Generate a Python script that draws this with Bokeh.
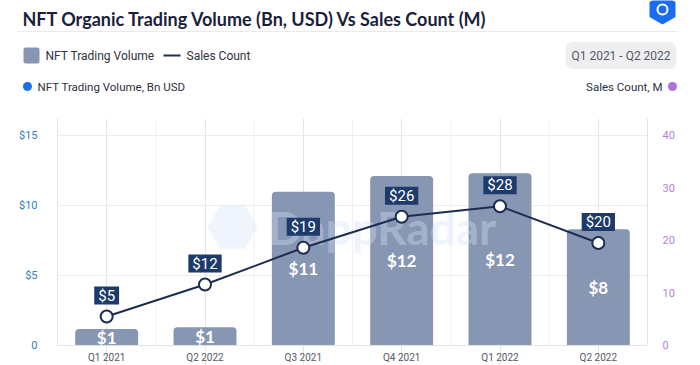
from bokeh.plotting import figure
from bokeh.models import Range1d, LinearAxis, FixedTicker, ColumnDataSource, Span
from bokeh.core.properties import value
from bokeh.embed import file_html
from bokeh.resources import INLINE

# ---- data ----
quarters = ["Q1 2021", "Q2 2022", "Q3 2021", "Q4 2021", "Q1 2022", "Q2 2022"]
volume_bn = [1.17, 1.3, 10.97, 12.1, 12.3, 8.3]
volume_labels = ["$1", "$1", "$11", "$12", "$12", "$8"]
sales_m = [5.5, 11.6, 18.6, 24.5, 26.5, 19.5]
sales_labels = ["$5", "$12", "$19", "$26", "$28", "$20"]
left_ticks = [0, 5, 10, 15]
left_tick_labels = ["0", "$5", "$10", "$15"]
right_ticks = [0, 10, 20, 30, 40]
vol_max = 16.2
sales_max = 43.2

BAR = "#8796b3"
NAVY = "#1c2d4f"
LABEL_BG = "#1d3a6b"
BLUE_AX = "#2f7dc0"
PURPLE_AX = "#b27fdc"
FONT = "Roboto"

W = 700
HH = 103
MH = 262

# ---- header ----
h = figure(width=W, height=HH, x_range=Range1d(0, W), y_range=Range1d(HH, 0),
           toolbar_location=None, output_backend="svg", min_border=0,
           x_axis_type=None, y_axis_type=None, outline_line_color=None)
h.xgrid.visible = False
h.ygrid.visible = False

h.text(x=[22], y=[18], text=["NFT Organic Trading Volume (Bn, USD) Vs Sales Count (M)"],
       text_font=value("Lato"), text_font_style="bold", text_font_size="18px",
       text_color="#1b1f3b", text_baseline="alphabetic")
# logo
h.scatter(x=[662], y=[9], marker="hex", size=30, angle=1.5708, fill_color="#1a6df0", line_color=None)
h.circle(x=[662], y=[9], radius=5, fill_color=None, line_color="white", line_width=2)
# separator
h.segment(x0=[17], y0=[31], x1=[677], y1=[31], line_color="#e9e9ee", line_width=1)
# legend row
h.rect(x=[31], y=[55], width=16, height=16, fill_color=BAR, line_color=None, border_radius=2)
h.text(x=[45], y=[55], text=["NFT Trading Volume"], text_font=value(FONT), text_font_size="12px",
       text_color="#2e3140", text_baseline="middle")
h.segment(x0=[163], y0=[55], x1=[180], y1=[55], line_color=NAVY, line_width=2)
h.text(x=[186], y=[55], text=["Sales Count"], text_font=value(FONT), text_font_size="12px",
       text_color="#2e3140", text_baseline="middle")
# period box
h.rect(x=[620.5], y=[55], width=111, height=27, fill_color="#efeff2", line_color=None, border_radius=7)
h.text(x=[620.5], y=[55], text=["Q1 2021 - Q2 2022"], text_font=value(FONT), text_font_size="12px",
       text_color="#555866", text_baseline="middle", text_align="center")
# axis titles row
h.circle(x=[27], y=[86], radius=4.5, fill_color="#1f6fe5", line_color=None)
h.text(x=[37], y=[86], text=["NFT Trading Volume, Bn USD"], text_font=value(FONT), text_font_size="11.5px",
       text_color="#2e3140", text_baseline="middle")
h.text(x=[662], y=[86], text=["Sales Count, M"], text_font=value(FONT), text_font_size="11.5px",
       text_color="#2e3140", text_baseline="middle", text_align="right")
h.circle(x=[672], y=[86], radius=4.5, fill_color="#b36ee0", line_color=None)

# ---- main chart ----
xs = list(range(len(quarters)))
src = ColumnDataSource(dict(x=xs, vol=volume_bn, vol_mid=[v / 2 for v in volume_bn], vol_lab=volume_labels,
                            sales=sales_m, sales_lab=sales_labels, zero=[0] * len(xs), q=quarters))

vol_min = -1.43
sales_min = vol_min * sales_max / vol_max
p = figure(width=W, height=MH, x_range=Range1d(-0.5, len(quarters) - 0.5), y_range=Range1d(vol_min, vol_max),
           toolbar_location=None, output_backend="svg", x_axis_location=None,
           min_border_left=57, min_border_right=53, min_border_top=15, min_border_bottom=0,
           outline_line_color=None)
p.extra_y_ranges = {"sales": Range1d(sales_min, sales_max)}

# category separators (vertical grid)
seps = [i + 0.5 for i in xs[:-1]]
p.segment(x0=seps, y0=[0] * len(seps), x1=seps, y1=[vol_max] * len(seps), line_color="#f1f1f5", line_width=1)
p.ygrid.ticker = FixedTicker(ticks=left_ticks[1:])
p.ygrid.grid_line_color = "#ececf1"
p.add_layout(Span(location=0, dimension="width", line_color="#e2e2e8", line_width=1))

# watermark
p.scatter(x=[1.28], y=[8.45], marker="hex", size=50, fill_color="#d4e0f7", fill_alpha=0.35, line_color=None)
p.vbar(x="x", top="vol", width=0.64, source=src, fill_color=BAR, line_color=None,
       border_radius=(4, 4, 0, 0))
p.text(x=[2.8], y=[8.45], text=["DappRadar"], text_font=value("Lato"), text_font_style="bold",
       text_font_size="46px", text_color="#d4e0f7", text_alpha=0.4, text_align="center",
       text_baseline="middle")

p.text(x="x", y="vol_mid", text="vol_lab", source=src, text_font=value("Lato"), text_font_style="bold",
       text_font_size="17px", text_color="white", text_align="center", text_baseline="middle")

p.line(x="x", y="sales", source=src, y_range_name="sales", line_color=NAVY, line_width=2)
p.scatter(x="x", y="sales", source=src, y_range_name="sales", size=12, fill_color="white",
          line_color=NAVY, line_width=2)
p.text(x="x", y="sales", source=src, y_range_name="sales", text="sales_lab", y_offset=-21,
       text_font=value(FONT), text_font_size="15px", text_color="white", text_align="center",
       text_baseline="middle", background_fill_color=LABEL_BG,
       padding=dict(left=4, right=4, top=0, bottom=0), text_line_height=1.1)

# category labels under the axis
p.text(x="x", y="zero", text="q", source=src, y_offset=7, text_font=value(FONT), text_font_size="10px",
       text_color="#555866", text_align="center", text_baseline="top")

# axes
p.yaxis.ticker = FixedTicker(ticks=left_ticks)
p.yaxis.bounds = (0, vol_max)
p.yaxis.major_label_overrides = {t: l for t, l in zip(left_ticks, left_tick_labels)}
p.yaxis.major_tick_line_color = None
p.yaxis.minor_tick_line_color = None
p.yaxis.axis_line_color = "#e2e2e8"
p.yaxis.major_label_text_font = FONT
p.yaxis.major_label_text_font_size = "11px"
p.yaxis.major_label_text_color = BLUE_AX
p.yaxis.major_label_standoff = 14

ra = LinearAxis(y_range_name="sales", ticker=FixedTicker(ticks=right_ticks), bounds=(0, sales_max))
ra.major_tick_line_color = None
ra.minor_tick_line_color = None
ra.axis_line_color = "#e2e2e8"
ra.major_label_text_font = FONT
ra.major_label_text_font_size = "11px"
ra.major_label_text_color = PURPLE_AX
ra.major_label_standoff = 9
p.add_layout(ra, "right")

open("out.html", "w").write(file_html([h, p], INLINE))
